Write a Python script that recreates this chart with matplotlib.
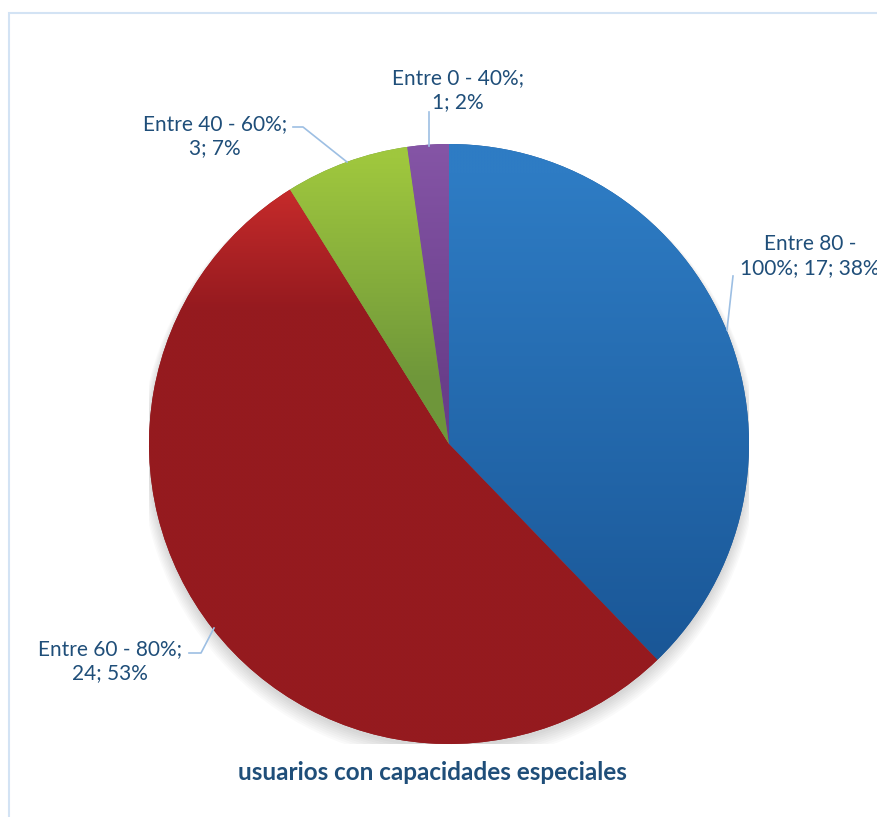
import numpy as np
import matplotlib.pyplot as plt
from matplotlib.colors import to_rgb
from matplotlib.patches import Rectangle

# ── Datos ────────────────────────────────────────────────────────────────────
categorias = ['Entre 80 - 100%', 'Entre 60 - 80%', 'Entre 40 - 60%', 'Entre 0 - 40%']
usuarios = [17, 24, 3, 1]
porcentajes = [38, 53, 7, 2]
titulo = 'usuarios con capacidades especiales'

# colores (claro, oscuro) por sector
colores = [('#2e7cc4', '#1a5797'), ('#c62b2b', '#951a1f'),
           ('#9fc73e', '#6e963a'), ('#8555a6', '#693e8a')]
# rango vertical del degradado (en unidades de radio)
degradado = [(0.9, -0.7), (0.85, 0.45), (0.95, 0.2), (1.0, 0.2)]

texto_color = '#1f4e79'
linea_color = '#9dbfe3'

plt.rcParams['font.family'] = ['Lato', 'DejaVu Sans']

W, H = 877, 817
fig = plt.figure(figsize=(W / 100, H / 100), dpi=100)

# marco exterior
fig.patches.append(Rectangle((8.5 / W, -0.1), 1.2, (H - 12.5) / H + 0.1,
                             transform=fig.transFigure, fill=False,
                             edgecolor='#d3e3f4', linewidth=1.5))

cx, cy, r = 449, 444, 300
ax = fig.add_axes([(cx - r) / W, (H - cy - r) / H, 2 * r / W, 2 * r / H])
ax.axis('off')

# sombra suave
for k in range(8):
    ax.add_patch(plt.Circle((0, -0.012 - 0.003 * k), 1.0 + 0.004 * k,
                            color='#000000', alpha=0.02, zorder=0, lw=0))

wedges, _ = ax.pie(usuarios, startangle=90, counterclock=False, radius=1,
                   colors=[c[1] for c in colores],
                   wedgeprops=dict(linewidth=0))
ax.set_xlim(-1, 1)
ax.set_ylim(-1, 1)
ax.set_aspect('equal')

yy = np.linspace(-1, 1, 400)[:, None] * np.ones((1, 400))
for w, (c1, c2), (ytop, ybot) in zip(wedges, colores, degradado):
    t = np.clip((ytop - yy) / (ytop - ybot), 0, 1)[..., None]
    img = (1 - t) * np.array(to_rgb(c1)) + t * np.array(to_rgb(c2))
    im = ax.imshow(img, extent=[-1, 1, -1, 1], origin='lower', zorder=2,
                   interpolation='bilinear')
    im.set_clip_path(w)
ax.set_xlim(-1, 1)
ax.set_ylim(-1, 1)


def px(x, y):
    return ((x - cx) / r, (cy - y) / r)


def etiqueta(texto, pos, linea):
    x, y = px(*pos)
    ax.text(x, y, texto, ha='center', va='center', color=texto_color,
            fontsize=15, linespacing=1.3, clip_on=False, zorder=5)
    pts = np.array([px(*p) for p in linea])
    ax.plot(pts[:, 0], pts[:, 1], color=linea_color, lw=1.2,
            clip_on=False, zorder=4)


etiqueta('Entre 80 -\n100%; 17; 38%', (810, 256), [(733, 276), (727, 330)])
etiqueta('Entre 60 - 80%;\n24; 53%', (110, 661), [(189, 653), (201, 653), (214, 628)])
etiqueta('Entre 40 - 60%;\n3; 7%', (215, 136), [(293, 127), (303, 127), (347, 162)])
etiqueta('Entre 0 - 40%;\n1; 2%', (458, 90), [(429, 112), (429, 146)])

fig.text(432 / W, 1 - 772 / H, titulo, ha='center', va='center',
         color=texto_color, fontsize=17.5, fontweight='bold')

fig.savefig('out.png', dpi=100)
